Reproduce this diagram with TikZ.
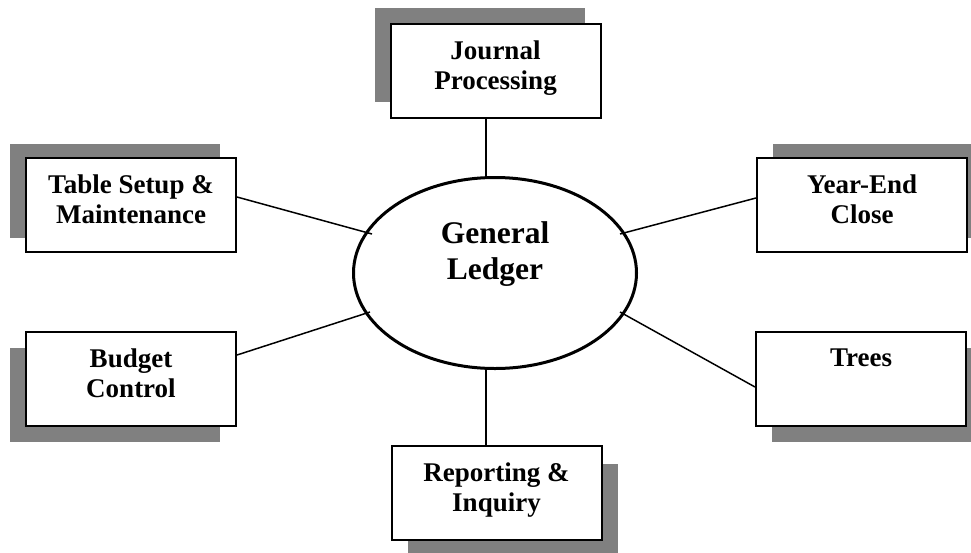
\documentclass[tikz,border=0pt]{standalone}
\usepackage{fontspec}
\setmainfont{Liberation Serif}
\usetikzlibrary{shapes.geometric,shadows,calc}
\definecolor{shadowgray}{RGB}{128,128,128}
% text of a module box: centred, hung from the top edge
\newcommand\boxlabel[1]{\parbox[c][94pt][t]{210pt}{\centering\vspace*{17pt}#1}}
\begin{document}
\begin{tikzpicture}[x=1pt,y=-1pt,
  module/.style={draw, line width=2pt, fill=white, inner sep=0pt,
    minimum width=210pt, minimum height=94pt,
    font=\bfseries\fontsize{27}{30}\selectfont},
  shadowat/.style n args={2}{general shadow={fill=shadowgray,
    shadow xshift=#1, shadow yshift=#2}},
  hub/.style={ellipse, draw, line width=3pt, fill=white, inner sep=0pt,
    minimum width=283pt, minimum height=191pt},
  hubtext/.style={font=\bfseries\fontsize{31.5}{36}\selectfont, align=center},
  link/.style={line width=1.5pt}]
\useasboundingbox (0,0) rectangle (971,552);
\clip (0,0) rectangle (971,552);

% central module
\node[hub] (gl) at (495,273) {};

% surrounding modules with offset shadows
\node[module, shadowat={-16pt}{16pt}]  (jp) at (495.5,70.5) {\boxlabel{Journal\\Processing}};
\node[module, shadowat={-16pt}{14pt}]  (ts) at (131,204.5)  {\boxlabel{Table Setup \&\\Maintenance}};
\node[module, shadowat={16pt}{14pt}]   (ye) at (862,205)    {\boxlabel{Year-End\\Close}};
\node[module, shadowat={-16pt}{-16pt}] (bc) at (131,378.5)  {\boxlabel{Budget\\Control}};
\node[module, shadowat={16pt}{-16pt}]  (tr) at (861,379)    {\boxlabel{Trees}};
\node[module, shadowat={16pt}{-18pt}]  (ri) at (496.5,492.5) {\boxlabel{Reporting \&\\Inquiry}};

% connectors
\draw[link] ([xshift=-9.5pt]jp.south) -- ($(gl.north)+(-9,0)$);
\draw[link] ($(gl.south)+(-9,0)$) -- ([xshift=-10.5pt]ri.north);
\draw[link] ($(ts.east)+(0,-7.5)$) -- ($(gl.center)+(-123,-39)$);
\draw[link] ($(ye.west)+(0,-7)$) -- ($(gl.center)+(125,-39)$);
\draw[link] ($(bc.east)+(0,-23.5)$) -- ($(gl.center)+(-125,39)$);
\draw[link] ($(tr.west)+(0,8)$) -- ($(gl.center)+(125,39)$);

\node[hubtext] (gltext) at (495,254) {General\\Ledger};
\end{tikzpicture}
\end{document}
